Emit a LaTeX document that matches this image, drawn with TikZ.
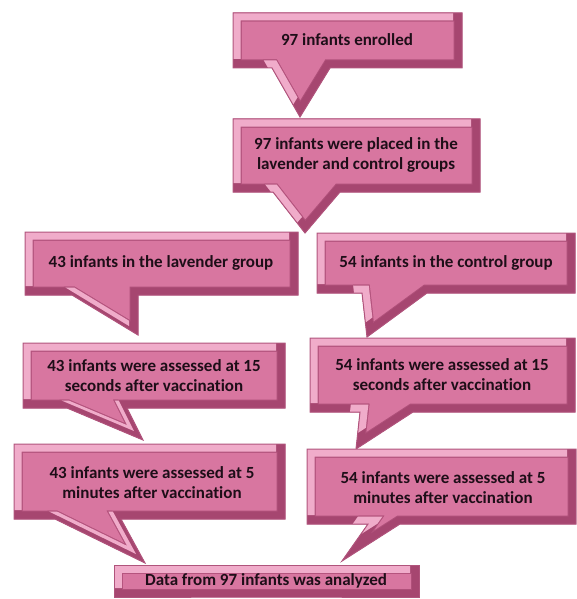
\documentclass[tikz,border=0pt]{standalone}
\usepackage{fontspec}
\setmainfont{Carlito}[Ligatures=NoCommon]
\definecolor{callface}{RGB}{216,118,160}
\definecolor{calllight}{RGB}{240,172,202}
\definecolor{calldark}{RGB}{166,70,112}
\definecolor{callline}{RGB}{176,84,124}
\definecolor{calltext}{RGB}{30,14,24}
% box (x1,y1,x2,y2), pointer base (left,right), pointer tip (x,y)
\def\callout(#1,#2,#3,#4)(#5,#6)(#7,#8){%
	\def\cpath{(#1,#2) -- (#3,#2) -- (#3,#4) -- (#6,#4) -- (#7,#8) -- (#5,#4) -- (#1,#4) -- cycle}%
	\begin{scope}
		\clip \cpath;
		\fill[callface] \cpath;
		\draw[line width=17pt, calldark!80!callface] \cpath;
		\draw[line width=15pt, calldark] \cpath;
		\clip[shift={(-9,-9)}] \cpath;
		\draw[line width=17pt, calldark!70!callface] \cpath;
		\draw[line width=15pt, calllight] \cpath;
	\end{scope}
	\draw[line width=1pt, callline] \cpath;}

\begin{document}
\begin{tikzpicture}[x=1pt, y=-1pt,
	calltxt/.style={font=\fontsize{17}{20}\selectfont\bfseries, text=calltext, align=center}]
		%%%%% START %%%%%
		\useasboundingbox (0,0) rectangle (576,599);
		
		\callout(233,13,462,68)(272,330)(300,117)
		\node[calltxt] (enrolled) at (347,40) {97 infants enrolled};
		
		\callout(233,119,480,192)(273,340)(305,233)
		\node[calltxt] (placed) at (356,155) {97 infants were placed in the\\lavender and control groups};
		
		\callout(25,232,298,295)(72,138)(138,335)
		\node[calltxt] (lav) at (161,263) {43 infants in the lavender group};
		\callout(317,233,575,293)(362,427)(367,337)
		\node[calltxt] (ctrl) at (446,263) {54 infants in the control group};
		
		\callout(23,343,285,408)(67,127)(143,440)
		\node[calltxt] (lavsec) at (154,376) {43 infants were assessed at 15\\seconds after vaccination};
		\callout(310,338,575,412)(360,413)(356,449)
		\node[calltxt] (ctrlsec) at (442,375) {54 infants were assessed at 15\\seconds after vaccination};
		
		\callout(14,444,285,519)(55,121)(145,563)
		\node[calltxt] (lavmin) at (152,483) {43 infants were assessed at 5\\minutes after vaccination};
		\callout(307,449,576,524)(368,400)(342,561)
		\node[calltxt] (ctrlmin) at (443,488) {54 infants were assessed at 5\\minutes after vaccination};
		
		\callout(114,565,419,597)(266,266)(266,597)
		\node[calltxt] (data) at (266,581) {Data from 97 infants was analyzed};
		%%%%% END %%%%%
\end{tikzpicture}
\end{document}
